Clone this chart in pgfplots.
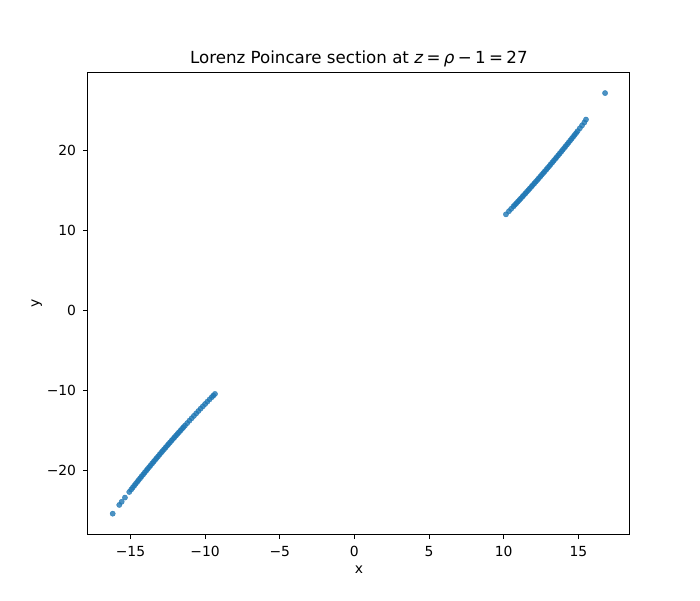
\documentclass[border=0pt]{standalone}
\usepackage{fontspec}
\setmainfont{DejaVu Sans}
\usepackage{pgfplots}
\usepackage{pgfplotstable}
\pgfplotsset{compat=1.18}
\definecolor{mplblue}{HTML}{1F77B4}
\pgfplotstableread{
x y
10.15 12.00
10.35 12.39
10.50 12.69
10.65 12.99
10.75 13.19
10.85 13.39
10.95 13.59
11.05 13.79
11.15 14.00
11.25 14.20
11.35 14.41
11.45 14.61
11.55 14.82
11.65 15.03
11.75 15.24
11.85 15.45
11.95 15.66
12.05 15.87
12.15 16.08
12.25 16.29
12.35 16.51
12.45 16.72
12.55 16.94
12.65 17.16
12.75 17.37
12.85 17.59
12.95 17.81
13.05 18.03
13.15 18.26
13.25 18.48
13.35 18.70
13.45 18.93
13.55 19.15
13.65 19.38
13.75 19.60
13.85 19.83
13.95 20.06
14.05 20.29
14.15 20.52
14.25 20.75
14.35 20.98
14.45 21.22
14.55 21.45
14.65 21.69
14.75 21.92
14.85 22.16
14.95 22.40
15.10 22.76
15.25 23.12
15.40 23.48
15.51 23.85
16.79 27.16
}\upperbranch
\pgfplotstableread{
x y
-16.19 -25.42
-15.75 -24.33
-15.59 -23.94
-15.37 -23.41
-15.08 -22.71
-14.95 -22.40
-14.85 -22.16
-14.75 -21.92
-14.65 -21.69
-14.55 -21.45
-14.45 -21.22
-14.35 -20.98
-14.25 -20.75
-14.15 -20.52
-14.05 -20.29
-13.95 -20.06
-13.85 -19.83
-13.75 -19.60
-13.65 -19.38
-13.55 -19.15
-13.45 -18.93
-13.35 -18.70
-13.25 -18.48
-13.15 -18.26
-13.05 -18.03
-12.95 -17.81
-12.85 -17.59
-12.75 -17.37
-12.65 -17.16
-12.55 -16.94
-12.45 -16.72
-12.35 -16.51
-12.25 -16.29
-12.15 -16.08
-12.05 -15.87
-11.95 -15.66
-11.85 -15.45
-11.75 -15.24
-11.65 -15.03
-11.55 -14.82
-11.45 -14.61
-11.35 -14.41
-11.20 -14.10
-11.05 -13.79
-10.90 -13.49
-10.75 -13.19
-10.60 -12.89
-10.45 -12.59
-10.30 -12.29
-10.15 -12.00
-10.00 -11.71
-9.85 -11.42
-9.70 -11.13
-9.55 -10.85
-9.45 -10.66
-9.34 -10.45
}\lowerbranch
\begin{document}
\begin{tikzpicture}
\begin{axis}[
  scale only axis,
  width=390.2pt, height=332.6pt,
  xmin=-17.85, xmax=18.45, ymin=-28.0, ymax=29.75,
  axis line style={line width=0.8pt},
  tick align=outside, tick pos=left,
  major tick length=3.5pt,
  every tick/.style={black, line width=0.8pt},
  xtick={-15,-10,-5,0,5,10,15},
  xticklabels={−15,−10,−5,0,5,10,15},
  ytick={-20,-10,0,10,20},
  yticklabels={−20,−10,0,10,20},
  ticklabel style={font=\fontsize{10}{12}\selectfont},
  xticklabel style={yshift=-1.5pt},
  yticklabel style={xshift=-1.5pt},
  xlabel={x}, ylabel={y},
  label style={font=\fontsize{10}{12}\selectfont},
  xlabel style={yshift=0pt},
  ylabel style={yshift=-3.5pt},
  title={Lorenz Poincare section at \textit{z}\kern0.2em=\kern0.2em\textit{ρ}\kern0.2em−\kern0.2em1\kern0.2em=\kern0.2em27},
  title style={font=\fontsize{12}{14}\selectfont, yshift=-5.5pt},
]
\coordinate (sw) at (rel axis cs:0,0);
\addplot[only marks, mark=*, mark size=1.9pt,
  mark options={draw=mplblue, line width=0.3pt, fill=mplblue, opacity=0.8}]
  table[x=x,y=y] {\upperbranch};
\addplot[only marks, mark=*, mark size=1.9pt,
  mark options={draw=mplblue, line width=0.3pt, fill=mplblue, opacity=0.8}]
  table[x=x,y=y] {\lowerbranch};
\end{axis}
\path[use as bounding box] ([xshift=-63.3pt,yshift=-47.3pt]sw) rectangle ++(504pt,432pt);
\end{tikzpicture}
\end{document}
